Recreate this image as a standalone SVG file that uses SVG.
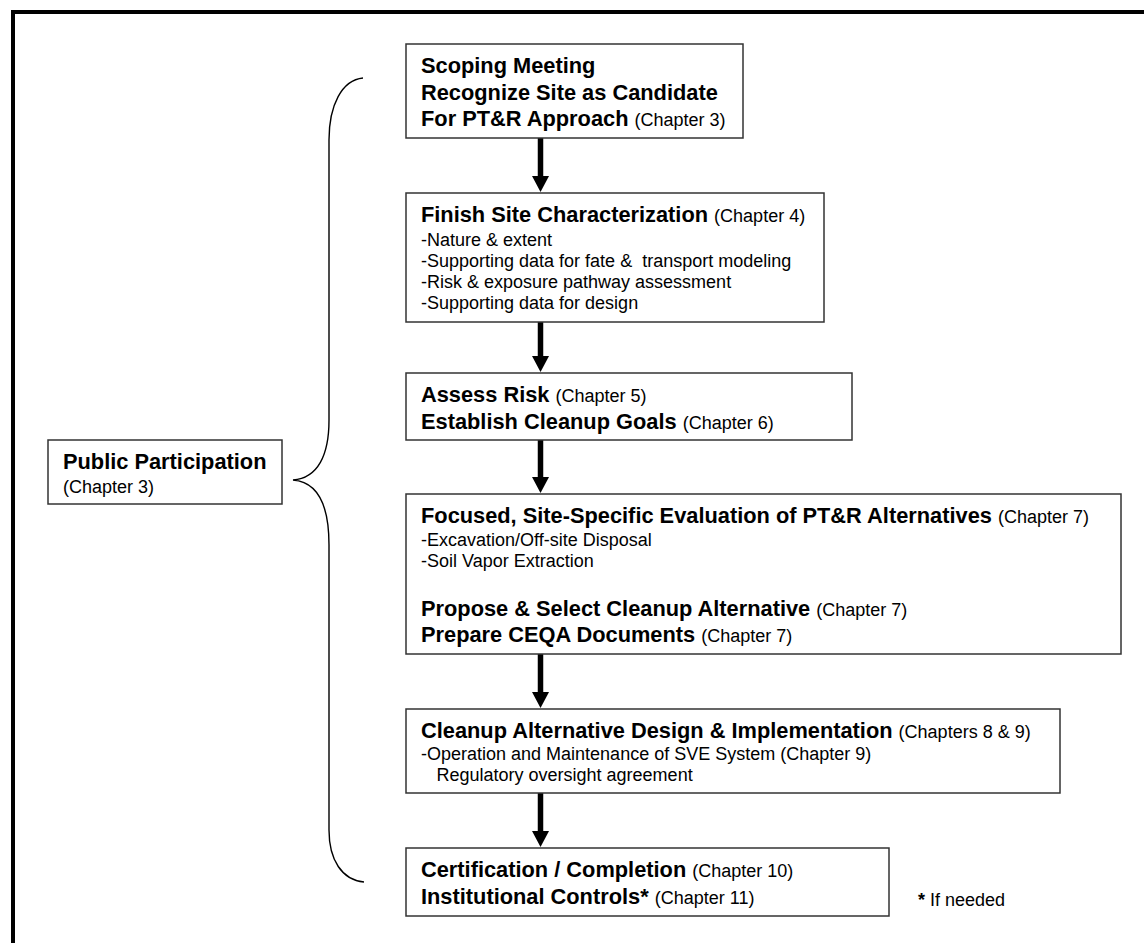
<svg xmlns="http://www.w3.org/2000/svg" width="1144" height="943" viewBox="0 0 1144 943">
<style>
.box{fill:#fff;stroke:#333;stroke-width:1.5}
.b{font-family:"Liberation Sans",Arial,sans-serif;font-weight:bold;font-size:21.8px;fill:#000}
.r{font-family:"Liberation Sans",Arial,sans-serif;font-weight:normal;font-size:18px;fill:#000}
.ch{font-weight:normal;font-size:18px}
.arrow{stroke:#000;stroke-width:5.5;fill:none;marker-end:url(#head)}
.brace{fill:none;stroke:#000;stroke-width:1.4}
</style>
<defs>
<marker id="head" viewBox="0 0 16 17" refX="1" refY="8.5" markerWidth="16" markerHeight="17" markerUnits="userSpaceOnUse" orient="auto">
<path d="M0,0 L16,8.5 L0,17 z" fill="#000"/>
</marker>
</defs>
<rect width="1144" height="943" fill="#fff"/>
<path d="M13,943 V12 H1144" fill="none" stroke="#000" stroke-width="4"/>

<g id="connectors">
<line class="arrow" x1="540.5" y1="138" x2="540.5" y2="177"/>
<line class="arrow" x1="540.5" y1="322" x2="540.5" y2="357"/>
<line class="arrow" x1="540.5" y1="440" x2="540.5" y2="478"/>
<line class="arrow" x1="540.5" y1="654" x2="540.5" y2="693"/>
<line class="arrow" x1="540.5" y1="793" x2="540.5" y2="832"/>
<path class="brace" d="M363,78 C342,80 329,105 329,140 L329,420 C329,455 318,478 293,480 C318,482 329,505 329,545 L329,830 C329,860 342,880 364,882"/>
</g>

<g id="public">
<rect class="box" x="48" y="440" width="234" height="64"/>
<text class="b" x="63" y="469">Public Participation</text>
<text class="r" x="63" y="493">(Chapter 3)</text>
</g>

<g id="scoping">
<rect class="box" x="406" y="44" width="337" height="94"/>
<text class="b" x="421" y="73">Scoping Meeting</text>
<text class="b" x="421" y="99.5">Recognize Site as Candidate</text>
<text class="b" x="421" y="126">For PT&amp;R Approach <tspan class="ch">(Chapter 3)</tspan></text>
</g>

<g id="characterization">
<rect class="box" x="406" y="193" width="418" height="129"/>
<text class="b" x="421" y="222">Finish Site Characterization <tspan class="ch">(Chapter 4)</tspan></text>
<text class="r" x="421" y="245.5">-Nature &amp; extent</text>
<text class="r" x="421" y="266.5" xml:space="preserve">-Supporting data for fate &amp;  transport modeling</text>
<text class="r" x="421" y="287.5">-Risk &amp; exposure pathway assessment</text>
<text class="r" x="421" y="308.5">-Supporting data for design</text>
</g>

<g id="risk">
<rect class="box" x="406" y="373" width="446" height="67"/>
<text class="b" x="421" y="402">Assess Risk <tspan class="ch">(Chapter 5)</tspan></text>
<text class="b" x="421" y="429">Establish Cleanup Goals <tspan class="ch">(Chapter 6)</tspan></text>
</g>

<g id="evaluation">
<rect class="box" x="406" y="494" width="715" height="160"/>
<text class="b" x="421" y="523">Focused, Site-Specific Evaluation of PT&amp;R Alternatives <tspan class="ch">(Chapter 7)</tspan></text>
<text class="r" x="421" y="545.5">-Excavation/Off-site Disposal</text>
<text class="r" x="421" y="567">-Soil Vapor Extraction</text>
<text class="b" x="421" y="616">Propose &amp; Select Cleanup Alternative <tspan class="ch">(Chapter 7)</tspan></text>
<text class="b" x="421" y="642">Prepare CEQA Documents <tspan class="ch">(Chapter 7)</tspan></text>
</g>

<g id="design">
<rect class="box" x="406" y="709" width="654" height="84"/>
<text class="b" x="421" y="738">Cleanup Alternative Design &amp; Implementation <tspan class="ch">(Chapters 8 &amp; 9)</tspan></text>
<text class="r" x="421" y="759.5">-Operation and Maintenance of SVE System (Chapter 9)</text>
<text class="r" x="436.5" y="781">Regulatory oversight agreement</text>
</g>

<g id="certification">
<rect class="box" x="406" y="848" width="483" height="68"/>
<text class="b" x="421" y="877">Certification / Completion <tspan class="ch">(Chapter 10)</tspan></text>
<text class="b" x="421" y="904">Institutional Controls* <tspan class="ch">(Chapter 11)</tspan></text>
</g>

<g id="footnote">
<text class="r" x="918" y="906"><tspan font-weight="bold">*</tspan> If needed</text>
</g>
</svg>
